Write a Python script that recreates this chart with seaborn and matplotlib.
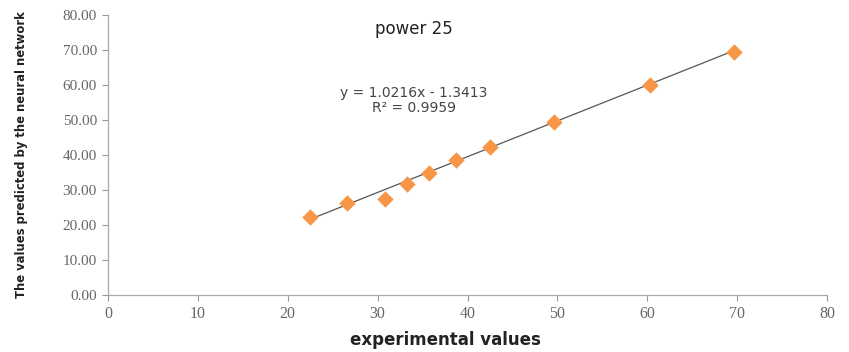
import matplotlib
matplotlib.use("Agg")
import matplotlib.pyplot as plt
import seaborn as sns
import numpy as np
import pandas as pd

experimental = [22.5, 26.6, 30.8, 33.3, 35.7, 38.7, 42.5, 49.6, 60.3, 69.7]
predicted = [22.4, 26.4, 27.4, 31.7, 34.9, 38.6, 42.3, 49.4, 60.0, 69.5]
slope, intercept = 1.0216, -1.3413
x_ticks = [0, 10, 20, 30, 40, 50, 60, 70, 80]
y_ticks = [0, 10, 20, 30, 40, 50, 60, 70, 80]
title = "power 25"
eq_text = "y = 1.0216x - 1.3413\nR² = 0.9959"

sns.set_theme(style="white")
plt.rcParams['font.family'] = ['DejaVu Sans']

df = pd.DataFrame({"experimental values": experimental, "predicted": predicted})

fig = plt.figure(figsize=(8.49, 3.52), dpi=100)
ax = fig.add_axes([108/849, 1-295/352, (827-108)/849, (295-15)/352])

xs = np.array([min(experimental), max(experimental)])
sns.lineplot(x=xs, y=slope*xs+intercept, ax=ax, color="#555555", lw=0.9)
sns.scatterplot(data=df, x="experimental values", y="predicted", ax=ax,
                marker="D", s=70, color="#F79646", edgecolor="#F79646", linewidth=0, zorder=3)

ax.set_xlim(0, 80)
ax.set_ylim(0, 80)
ax.set_xticks(x_ticks)
ax.set_yticks(y_ticks)
ax.set_xticklabels([str(t) for t in x_ticks], fontsize=11.5, color="#666666",
                   family=["Liberation Serif", "DejaVu Serif"])
ax.set_yticklabels([f"{t:.2f}" for t in y_ticks], fontsize=11, color="#666666",
                   family=["Liberation Serif", "DejaVu Serif"])
ax.tick_params(axis="both", direction="out", length=4, width=0.8, color="#999999", pad=4,
               bottom=True, left=True)
for side in ["top", "right"]:
    ax.spines[side].set_visible(False)
for side in ["left", "bottom"]:
    ax.spines[side].set_color("#AAAAAA")
    ax.spines[side].set_linewidth(0.9)

ax.set_xlabel("experimental values", fontsize=12, fontweight="bold", color="#222222")
ax.xaxis.set_label_coords(0.47, -(340-295)/280, transform=ax.transAxes)
ax.xaxis.label.set_va("center")
ax.set_ylabel("The values predicted by the neural network", fontsize=9.3, color="#222222",
              fontstretch="condensed", fontweight="semibold")
ax.yaxis.set_label_coords(-(108-22)/719, 0.5, transform=ax.transAxes)
ax.yaxis.label.set_va("center")

ax.text(34.0, 76.0, title, fontsize=12, color="#222222", ha="center", va="center")
ax.text(34.0, 55.5, eq_text, fontsize=10, color="#444444", ha="center", va="center",
        linespacing=1.1)

fig.savefig("out.png", dpi=100)
